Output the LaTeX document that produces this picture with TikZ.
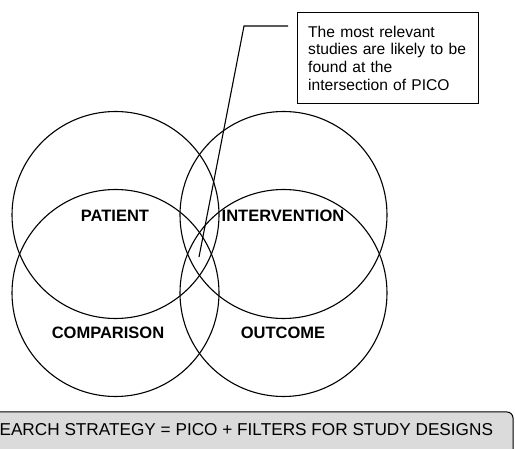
\documentclass[tikz,border=0pt]{standalone}
\usepackage{fontspec}
\setmainfont{Liberation Sans}

\tikzset{
  setlabel/.style={font=\bfseries\fontsize{16.5}{18}\selectfont, inner sep=0pt},
  notebox/.style={draw, line width=1.4pt, anchor=north west, align=left,
    minimum width=181pt, minimum height=91pt, text width=160pt,
    inner xsep=10pt, font=\fontsize{15.6}{17.7}\selectfont},
}

\begin{document}
\begin{tikzpicture}[x=1pt, y=-1pt, line width=1.1pt]
  \useasboundingbox (0,0) rectangle (515,449);
  % search strategy bar
  \draw[fill=gray!28, line width=1pt, rounded corners=6pt] (-10,412) rectangle (513,470);
  \node[anchor=west, inner sep=0pt, font=\fontsize{17.2}{19}\selectfont] (strategy) at (-1,430)
    {EARCH STRATEGY = PICO + FILTERS FOR STUDY DESIGNS};
  % the four sets
  \draw (115.5,215) circle[radius=103.5pt];
  \draw (283.5,215) circle[radius=103.5pt];
  \draw (115.5,293) circle[radius=103.5pt];
  \draw (283.5,293) circle[radius=103.5pt];
  \node[setlabel] (patient)      at (115,216) {PATIENT};
  \node[setlabel] (intervention) at (283,216) {INTERVENTION};
  \node[setlabel] (comparison)   at (108,333) {COMPARISON};
  \node[setlabel] (outcome)      at (283,333) {OUTCOME};
  % callout
  \node[notebox] (note) at (297,12)
    {The most relevant\\studies are likely to be\\found at the\\intersection of PICO};
  \coordinate (bend) at (244,26);
  \coordinate (tip) at (199,257);
  \draw (note.north west) ++(-9,14) -- (bend) -- (tip);
\end{tikzpicture}
\end{document}
